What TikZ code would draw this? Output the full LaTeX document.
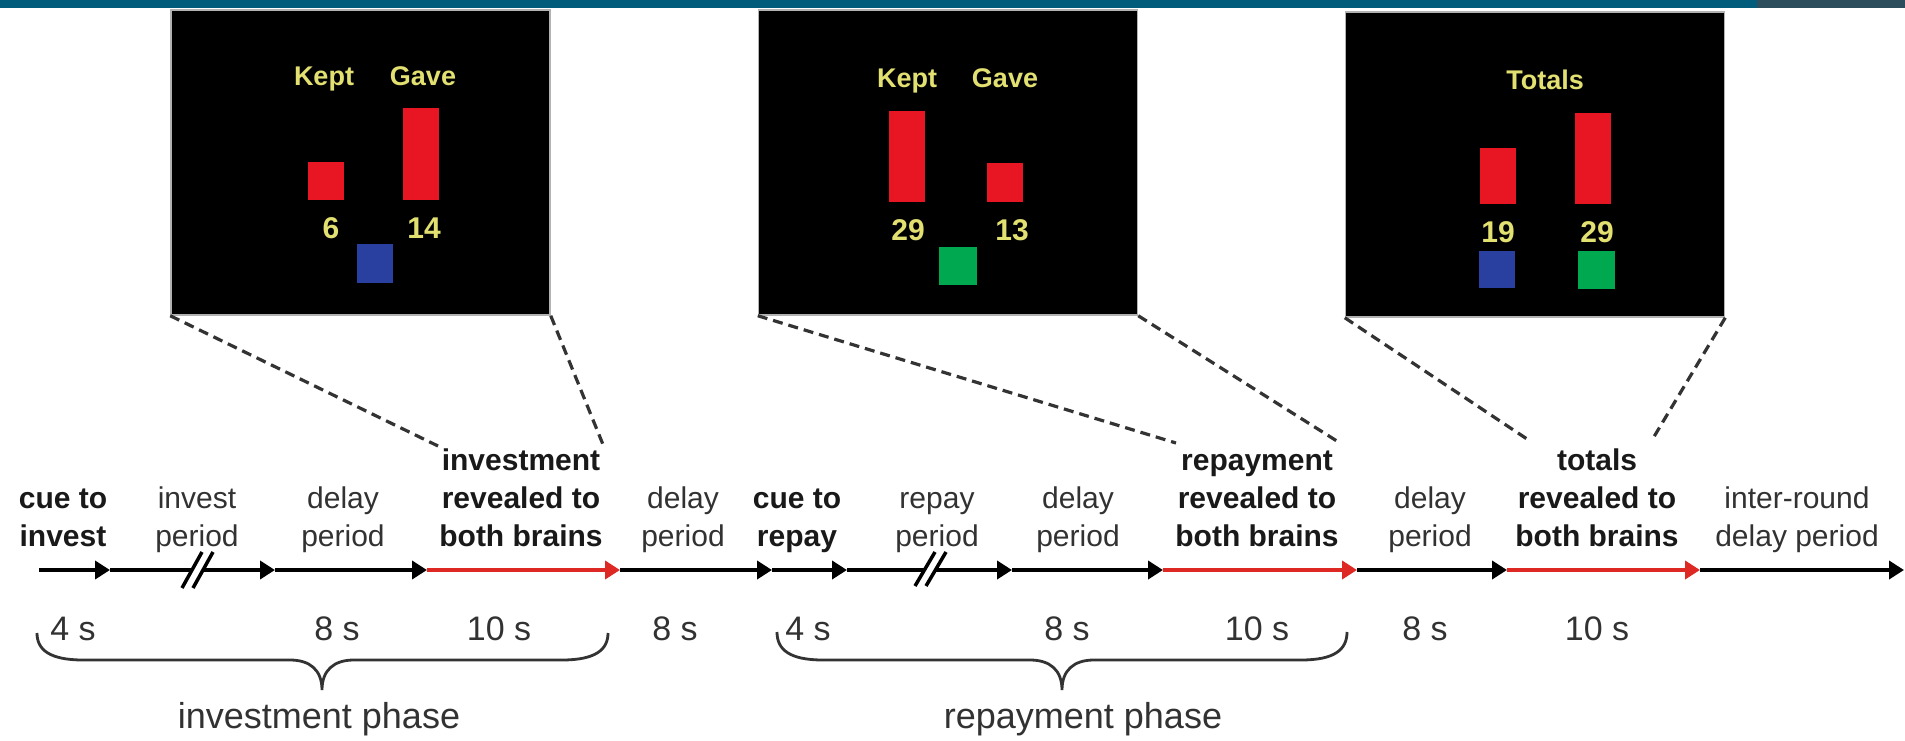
\documentclass[tikz,border=0pt]{standalone}
\usepackage{fontspec}
\setmainfont{Liberation Sans}
\usetikzlibrary{arrows.meta}
\definecolor{teal1}{RGB}{0,92,122}
\definecolor{tealdark}{RGB}{44,78,92}
\definecolor{barred}{RGB}{232,22,34}
\definecolor{barblue}{RGB}{42,64,160}
\definecolor{bargreen}{RGB}{0,168,80}
\definecolor{ylw}{RGB}{226,224,112}
\definecolor{lred}{RGB}{222,40,36}
\definecolor{txt}{RGB}{25,25,25}
\definecolor{txtg}{RGB}{50,50,50}
\begin{document}
\begin{tikzpicture}[x=1pt,y=-1pt,
  screen/.style={draw=gray!60,line width=1.5pt,fill=black,minimum width=379pt,minimum height=305pt,inner sep=0pt},
  ylab/.style={text=ylw,font=\bfseries\fontsize{27}{30}\selectfont,inner sep=0pt,anchor=base},
  ynum/.style={text=ylw,font=\bfseries\fontsize{30}{32}\selectfont,inner sep=0pt,anchor=base},
  evt/.style={align=center,text=txtg,font=\fontsize{30}{38}\selectfont,inner sep=0pt,anchor=base},
  evtb/.style={evt,text=txt,font=\bfseries\fontsize{30}{38}\selectfont},
  dur/.style={text=txtg,font=\fontsize{34}{38}\selectfont,inner sep=0pt,anchor=base},
  phase/.style={text=txtg,font=\fontsize{36}{40}\selectfont,inner sep=0pt,anchor=base},
  seg/.style={line width=4.5pt,-{Triangle[length=15pt,width=18pt]}},
  blk/.style={seg,draw=black},
  rd/.style={seg,draw=lred},
  dsh/.style={draw=black!80,line width=3.2pt,dash pattern=on 10pt off 6pt},
  brc/.style={draw=black!80,line width=2.8pt},
  brk/.style={draw=black,line width=3.5pt}
]
\useasboundingbox (0,0) rectangle (1905,741);
\fill[white] (0,0) rectangle (1905,741);
% top band
\fill[teal1] (0,0) rectangle (1757,8);
\fill[tealdark] (1757,0) rectangle (1905,8);

% screens
\node[screen] (box1) at (360.5,162.5) {};
\node[screen] (box2) at (948,162.5) {};
\node[screen] (box3) at (1535,164.5) {};

% screen 1
\node[ylab] (k1) at (324,86) {Kept};
\node[ylab] (g1) at (423,86) {Gave};
\fill[barred] (308,162) rectangle (344,200);
\fill[barred] (403,108) rectangle (439,200);
\node[ynum] (n1a) at (331,238) {6};
\node[ynum] (n1b) at (424,238) {14};
\fill[barblue] (357,244) rectangle (393,283);

% screen 2
\node[ylab] (k2) at (907,88) {Kept};
\node[ylab] (g2) at (1005,88) {Gave};
\fill[barred] (889,111) rectangle (925,202);
\fill[barred] (987,163) rectangle (1023,202);
\node[ynum] (n2a) at (908,240) {29};
\node[ynum] (n2b) at (1012,240) {13};
\fill[bargreen] (939,247) rectangle (977,285);

% screen 3
\node[ylab] (tot) at (1545,90) {Totals};
\fill[barred] (1480,148) rectangle (1516,204);
\fill[barred] (1575,113) rectangle (1611,204);
\node[ynum] (n3a) at (1498,242) {19};
\node[ynum] (n3b) at (1597,242) {29};
\fill[barblue] (1479,251) rectangle (1515,288);
\fill[bargreen] (1578,251) rectangle (1615,289);

% zoom lines
\coordinate (d1a) at (438,446);
\coordinate (d1b) at (604,447);
\coordinate (d2a) at (1176,443);
\coordinate (d2b) at (1340,443);
\coordinate (d3a) at (1530,441);
\coordinate (d3b) at (1652,440);
\draw[dsh] (box1.south west) -- (d1a);
\draw[dsh] (box1.south east) -- (d1b);
\draw[dsh] (box2.south west) -- (d2a);
\draw[dsh] (box2.south east) -- (d2b);
\draw[dsh] (box3.south west) -- (d3a);
\draw[dsh] (box3.south east) -- (d3b);

% timeline
\coordinate (t0) at (39,570);
\coordinate (t1) at (110,570);
\coordinate (t2) at (275,570);
\coordinate (t3) at (427,570);
\coordinate (t4) at (620,570);
\coordinate (t5) at (772,570);
\coordinate (t6) at (847,570);
\coordinate (t7) at (1012,570);
\coordinate (t8) at (1163,570);
\coordinate (t9) at (1357,570);
\coordinate (t10) at (1507,570);
\coordinate (t11) at (1700,570);
\coordinate (t12) at (1904,570);
\draw[blk] (t0) -- (t1);
\draw[blk] (t1) -- (t2);
\draw[blk] (t2) -- (t3);
\draw[rd] (t3) -- (t4);
\draw[blk] (t4) -- (t5);
\draw[blk] (t5) -- (t6);
\draw[blk] (t6) -- (t7);
\draw[blk] (t7) -- (t8);
\draw[rd] (t8) -- (t9);
\draw[blk] (t9) -- (t10);
\draw[rd] (t10) -- (t11);
\draw[blk] (t11) -- (t12);

% break marks
\fill[white] (184.2,584) -- (195.2,584) -- (210.8,556) -- (199.8,556) -- cycle;
\draw[brk] (182,588) -- (202,552);
\draw[brk] (193,588) -- (213,552);
\fill[white] (917.2,582) -- (928.2,582) -- (943.8,556) -- (932.8,556) -- cycle;
\draw[brk] (915,586) -- (935,552);
\draw[brk] (926,586) -- (946,552);

% event labels
\node[evtb] (e1) at (63,546) {cue to\\invest};
\node[evt] (e2) at (197,546) {invest\\period};
\node[evt] (e3) at (343,546) {delay\\period};
\node[evtb] (e4) at (521,546) {investment\\revealed to\\both brains};
\node[evt] (e5) at (683,546) {delay\\period};
\node[evtb] (e6) at (797,546) {cue to\\repay};
\node[evt] (e7) at (937,546) {repay\\period};
\node[evt] (e8) at (1078,546) {delay\\period};
\node[evtb] (e9) at (1257,546) {repayment\\revealed to\\both brains};
\node[evt] (e10) at (1430,546) {delay\\period};
\node[evtb] (e11) at (1597,546) {totals\\revealed to\\both brains};
\node[evt] (e12) at (1797,546) {inter-round\\delay period};

% durations
\node[dur] (s1) at (73,640) {4 s};
\node[dur] (s2) at (337,640) {8 s};
\node[dur] (s3) at (499,640) {10 s};
\node[dur] (s4) at (675,640) {8 s};
\node[dur] (s5) at (808,640) {4 s};
\node[dur] (s6) at (1067,640) {8 s};
\node[dur] (s7) at (1257,640) {10 s};
\node[dur] (s8) at (1425,640) {8 s};
\node[dur] (s9) at (1597,640) {10 s};

% braces
\draw[brc] (37,633) .. controls (37,650) and (50,660) .. (83,660) -- (290,660)
  .. controls (310,660) and (322,670) .. (322,690)
  .. controls (322,670) and (334,660) .. (354,660) -- (562,660)
  .. controls (595,660) and (608,650) .. (608,633);
\draw[brc] (777,632) .. controls (777,650) and (790,660) .. (823,660) -- (1030,660)
  .. controls (1050,660) and (1062,670) .. (1062,690)
  .. controls (1062,670) and (1074,660) .. (1094,660) -- (1301,660)
  .. controls (1334,660) and (1347,650) .. (1347,632);

\node[phase] (p1) at (319,728) {investment phase};
\node[phase] (p2) at (1083,728) {repayment phase};
\end{tikzpicture}
\end{document}
